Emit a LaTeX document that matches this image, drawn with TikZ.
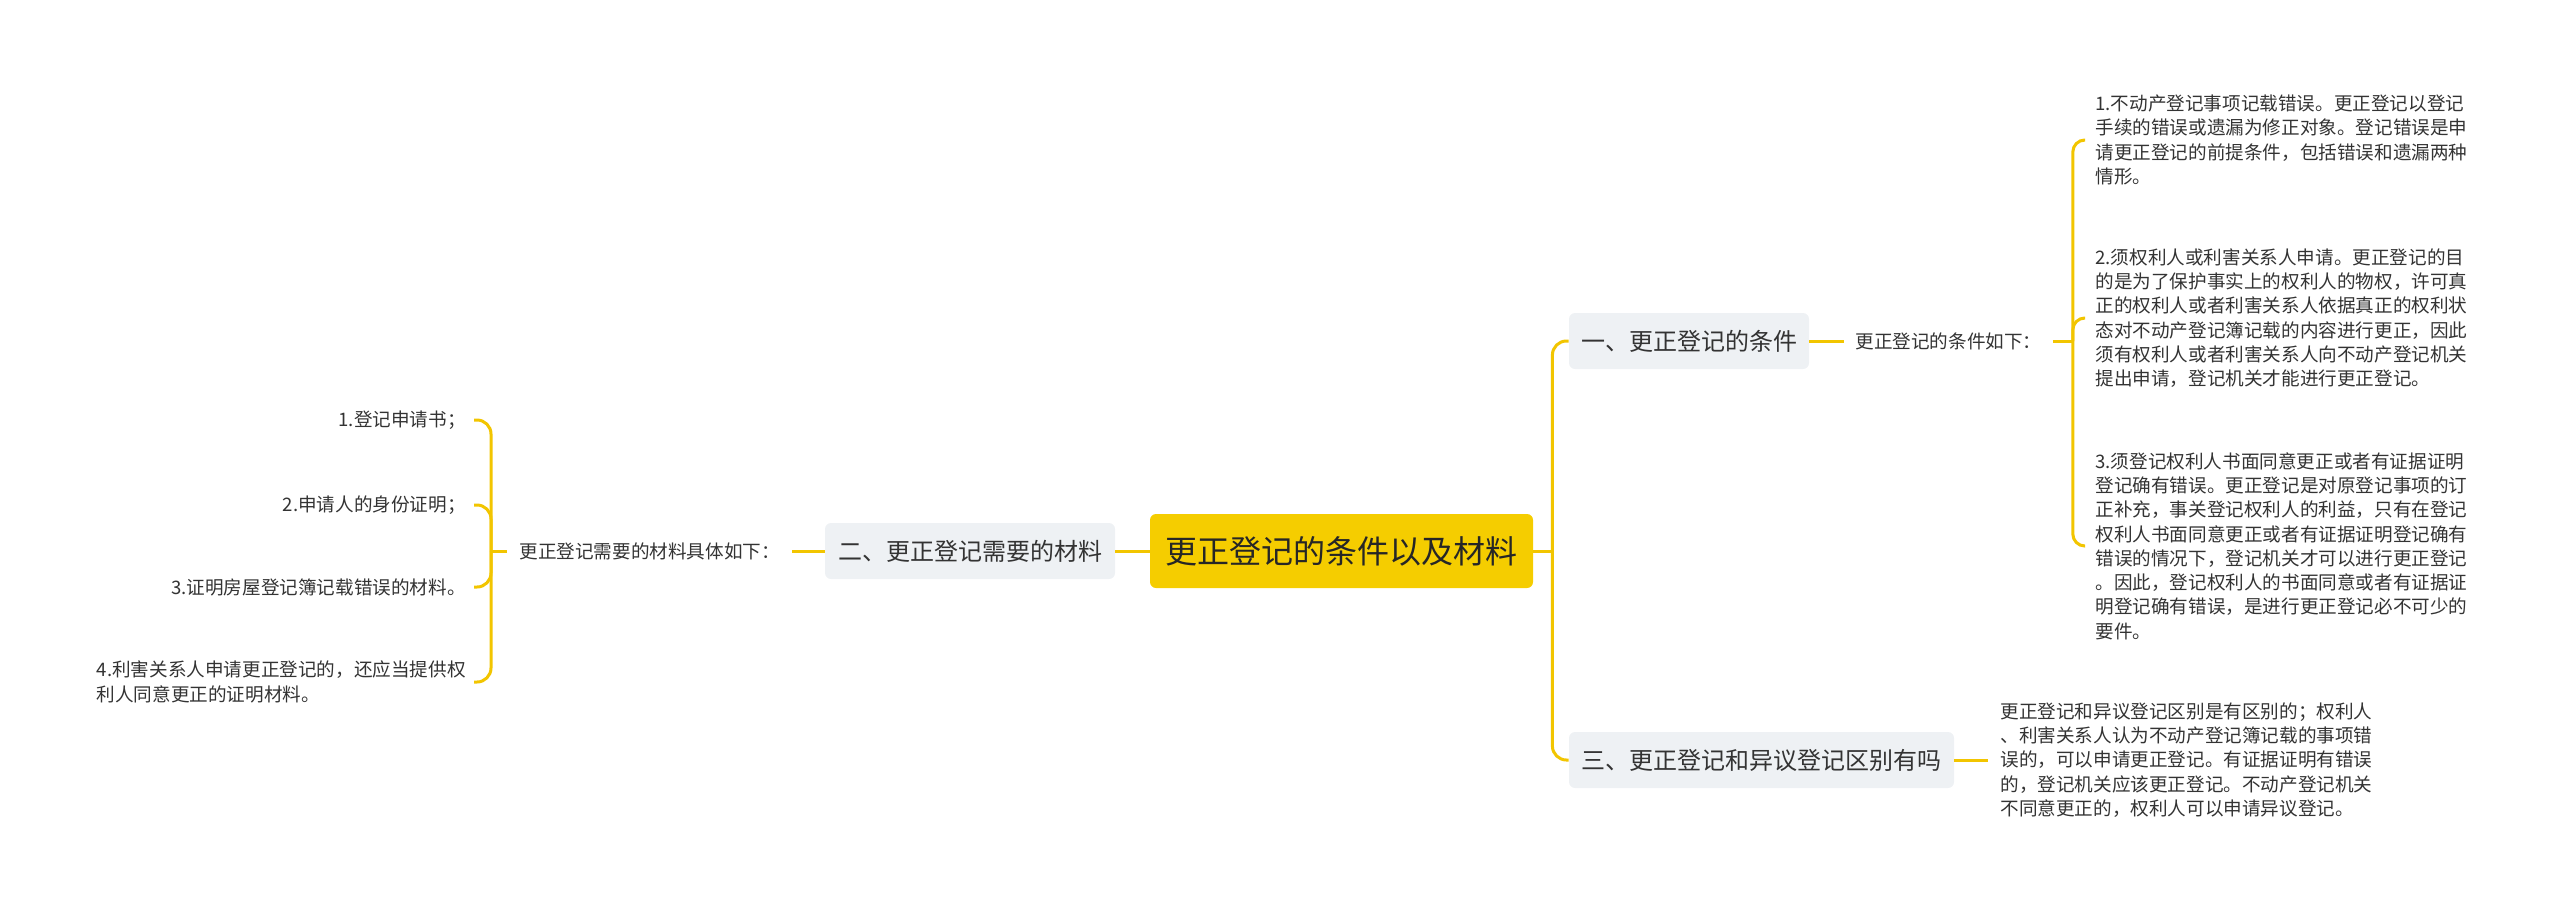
\documentclass[tikz,border=0pt]{standalone}
\usepackage{fontspec}
\setmainfont{Noto Sans CJK SC}
\definecolor{rootc}{HTML}{F5CD00}
\definecolor{linec}{HTML}{F2C500}
\definecolor{boxc}{HTML}{EEF1F4}
\definecolor{txt}{HTML}{333333}
\begin{document}
\begin{tikzpicture}[x=0.5pt,y=-0.5pt,
  rootbox/.style={fill=rootc, rounded corners=3pt, minimum width=191.5pt, minimum height=37pt, inner sep=0pt, font=\fontsize{16pt}{19pt}\selectfont, text=black!85},
  branch/.style={fill=boxc, rounded corners=3pt, minimum height=28pt, inner sep=0pt, font=\fontsize{12pt}{14pt}\selectfont, text=txt},
  lab/.style={inner xsep=5.5pt, inner ysep=0pt, font=\fontsize{9.3pt}{12pt}\selectfont, text=txt},
  leaf/.style={inner xsep=5pt, inner ysep=0pt, align=left, font=\fontsize{9.3pt}{12.15pt}\selectfont, text=txt},
  conn/.style={draw=linec, line width=1.5pt, rounded corners=7pt}]
\useasboundingbox (0,0) rectangle (2560,911);
% main nodes
\node[rootbox] (root) at (1341.5,551) {更正登记的条件以及材料};
\node[branch, minimum width=120pt] (b1) at (1689,341) {一、更正登记的条件};
\node[branch, minimum width=145pt] (b2) at (970,551) {二、更正登记需要的材料};
\node[branch, minimum width=192.5pt] (b3) at (1761.5,760) {三、更正登记和异议登记区别有吗};
% labels
\node[lab, anchor=west] (l1) at (1844,341) {更正登记的条件如下：};
\node[lab, anchor=west, inner xsep=6pt] (l2) at (507,551) {更正登记需要的材料具体如下：};
% right leaves
\node[leaf, anchor=west] (r1) at (2085,140) {1.不动产登记事项记载错误。更正登记以登记\\手续的错误或遗漏为修正对象。登记错误是申\\请更正登记的前提条件，包括错误和遗漏两种\\情形。};
\node[leaf, anchor=west] (r2) at (2085,318) {2.须权利人或利害关系人申请。更正登记的目\\的是为了保护事实上的权利人的物权，许可真\\正的权利人或者利害关系人依据真正的权利状\\态对不动产登记簿记载的内容进行更正，因此\\须有权利人或者利害关系人向不动产登记机关\\提出申请，登记机关才能进行更正登记。};
\node[leaf, anchor=west] (r3) at (2085,546) {3.须登记权利人书面同意更正或者有证据证明\\登记确有错误。更正登记是对原登记事项的订\\正补充，事关登记权利人的利益，只有在登记\\权利人书面同意更正或者有证据证明登记确有\\错误的情况下，登记机关才可以进行更正登记\\。因此，登记权利人的书面同意或者有证据证\\明登记确有错误，是进行更正登记必不可少的\\要件。};
\node[leaf, anchor=west, inner xsep=6pt] (r4) at (1988,760) {更正登记和异议登记区别是有区别的；权利人\\、利害关系人认为不动产登记簿记载的事项错\\误的，可以申请更正登记。有证据证明有错误\\的，登记机关应该更正登记。不动产登记机关\\不同意更正的，权利人可以申请异议登记。};
% left leaves
\node[leaf, anchor=east, inner xsep=4pt] (m1) at (474,420) {1.登记申请书；};
\node[leaf, anchor=east, inner xsep=4pt] (m2) at (474,505) {2.申请人的身份证明；};
\node[leaf, anchor=east, inner xsep=4pt] (m3) at (474,587) {3.证明房屋登记簿记载错误的材料。};
\node[leaf, anchor=east, inner xsep=4pt] (m4) at (474,682) {4.利害关系人申请更正登记的，还应当提供权\\利人同意更正的证明材料。};
% connectors
\coordinate (tr) at ([xshift=9.5pt]root.east);
\draw[conn] (root.east) -- (tr);
\draw[conn] (tr) |- (b1.west);
\draw[conn] (tr) |- (b3.west);
\draw[conn] (root.west) -- (b2.east);
\draw[conn] (b1.east) -- (l1.west);
\draw[conn] (b2.west) -- (l2.east);
\draw[conn] (b3.east) -- (r4.west);
\coordinate (rb) at ([xshift=10pt]l1.east);
\draw[conn] (l1.east) -- (rb);
\draw[conn, rounded corners=6pt] (rb) |- (r1.west);
\draw[conn, rounded corners=6pt] (rb) |- (r2.west);
\draw[conn, rounded corners=6pt] (rb) |- (r3.west);
\coordinate (lb) at ([xshift=-8pt]l2.west);
\draw[conn] (l2.west) -- (lb);
\draw[conn] (lb) |- (m1.east);
\draw[conn] (lb) |- (m2.east);
\draw[conn] (lb) |- (m3.east);
\draw[conn] (lb) |- (m4.east);
\end{tikzpicture}
\end{document}
